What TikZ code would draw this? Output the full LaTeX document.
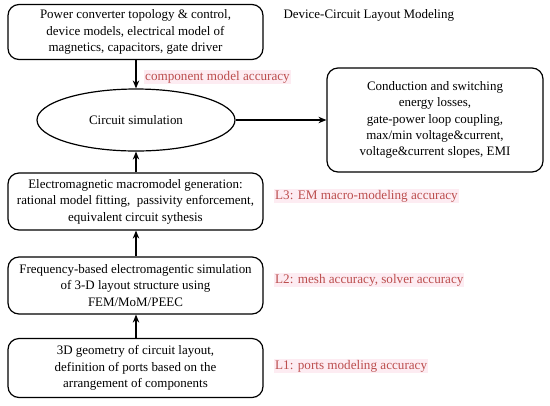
\documentclass[tikz,border=0pt]{standalone}
\usepackage{fontspec}
\setmainfont{Liberation Serif}
\usetikzlibrary{arrows.meta,shapes.geometric}
\definecolor{labred}{RGB}{188,78,78}
\definecolor{labpink}{RGB}{253,236,242}
\begin{document}
\begin{tikzpicture}[x=1bp,y=-1bp,
  box/.style={draw, line width=1.2bp, rounded corners=11bp, align=center, font=\fontsize{13}{16.5}\selectfont, inner sep=0pt},
  acc/.style={text=labred, fill=labpink, inner sep=1bp, anchor=west, font=\fontsize{13.2}{15}\selectfont},
  conn/.style={line width=1.2bp, -{Stealth[length=8bp,width=6.5bp]}}]
\useasboundingbox (0,0) rectangle (550,405);
\node[box, minimum width=255bp, minimum height=55bp] (top) at (135.5,32) {Power converter topology \& control,\\device models, electrical model of\\magnetics, capacitors, gate driver};
\node[font=\fontsize{13}{15}\selectfont, anchor=west] (title) at (280,15) {Device-Circuit Layout Modeling};
\node[draw, ellipse, line width=1.2bp, minimum width=198bp, minimum height=62bp, inner sep=0pt, font=\fontsize{13}{15}\selectfont] (sim) at (136,120) {Circuit simulation};
\node[box, minimum width=216bp, minimum height=104bp] (out) at (435,120) {Conduction and switching\\energy losses,\\gate-power loop coupling,\\max/min voltage\&current,\\voltage\&current slopes, EMI};
\node[box, minimum width=255bp, minimum height=57bp] (em) at (135.5,201.5) {Electromagnetic macromodel generation:\\rational model fitting,\ \ passivity enforcement,\\equivalent circuit sythesis};
\node[box, minimum width=255bp, minimum height=57bp] (fr) at (135.5,285.5) {Frequency-based electromagentic simulation\\of 3-D layout structure using\\FEM/MoM/PEEC};
\node[box, minimum width=255bp, minimum height=59bp] (geo) at (135.5,368) {3D geometry of circuit layout,\\definition of ports based on the\\arrangement of components};
\node[acc] (a0) at (144,77) {component model accuracy};
\node[acc] (a3) at (274,196) {L3: EM macro-modeling accuracy};
\node[acc] (a2) at (274,280) {L2: mesh accuracy, solver accuracy};
\node[acc] (a1) at (274,366) {L1: ports modeling accuracy};
\draw[conn] (top.south -| sim.north) -- (sim.north);
\draw[conn] (sim.east) -- (out.west |- sim.east);
\draw[conn] (em.north -| sim.south) -- (sim.south);
\draw[conn] (fr.north -| sim.south) -- (em.south -| sim.south);
\draw[conn] (geo.north -| sim.south) -- (fr.south -| sim.south);
\end{tikzpicture}
\end{document}
